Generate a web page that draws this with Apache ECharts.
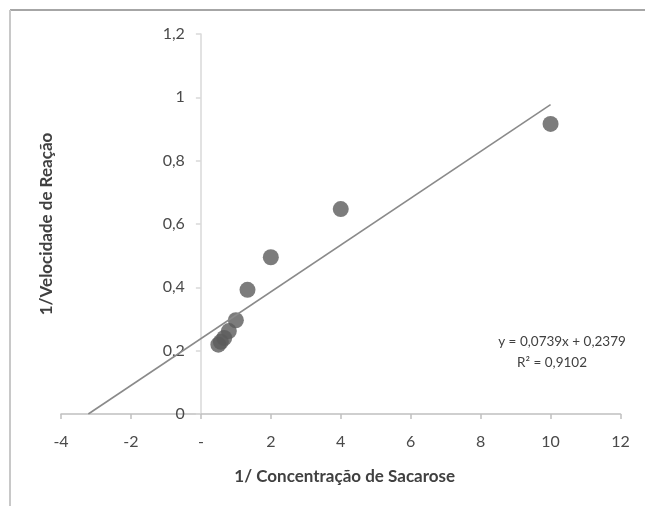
<!DOCTYPE html>
<html>
<head>
<meta charset="utf-8">
<script src="https://cdn.jsdelivr.net/npm/echarts@6/dist/echarts.min.js"></script>
<style>
  html, body { margin: 0; padding: 0; background: #fff; }
  #chart { width: 645px; height: 506px; }
</style>
</head>
<body>
<div id="chart"></div>
<script>
// Lineweaver-Burk plot: 1/[S] vs 1/v
const invConcentration = [10, 4, 2, 1.333, 1, 0.8, 0.667, 0.571, 0.5];
const invVelocity = [0.916, 0.647, 0.495, 0.392, 0.296, 0.262, 0.240, 0.228, 0.219];

// Linear trendline (least squares) and its statistics
const trendSlope = [0.0739];
const trendIntercept = [0.2379];
const trendR2 = [0.9102];
const trendXEnd = [10];

// Axis tick labels
const xTicks = [-4, -2, 0, 2, 4, 6, 8, 10, 12];
const xTickLabels = ['-4', '-2', '-', '2', '4', '6', '8', '10', '12'];
const yTicks = [0, 0.2, 0.4, 0.6, 0.8, 1, 1.2];
const yTickLabels = ['0', '0,2', '0,4', '0,6', '0,8', '1', '1,2'];

const fmtComma = (v, d) => v.toFixed(d).replace('.', ',');

const slope = trendSlope[0], intercept = trendIntercept[0];
const xStart = -intercept / slope;          // where the trendline meets y = 0
const trendData = [[xStart, 0], [trendXEnd[0], slope * trendXEnd[0] + intercept]];

const font = 'Lato, "Open Sans", sans-serif';

const X_MIN = -4, X_MAX = 12;
const GRID = { left: 61, right: 24.5, top: 34, bottom: 92 };
const WIDTH = 645;
// the vertical axis sits at x = 0, so shift it right from the grid's left edge
const yAxisShift = (0 - X_MIN) / (X_MAX - X_MIN) * (WIDTH - GRID.left - GRID.right);

const chart = echarts.init(document.getElementById('chart'), null, { renderer: 'canvas' });
chart.setOption({
  backgroundColor: '#ffffff',
  animation: false,
  grid: Object.assign({ containLabel: false, outerBoundsMode: 'none' }, GRID),
  xAxis: {
    type: 'value',
    min: X_MIN, max: X_MAX, interval: 2,
    name: '1/ Concentração de Sacarose',
    nameLocation: 'middle',
    nameGap: 54,
    nameTextStyle: { fontFamily: font, fontWeight: 'bold', fontSize: 17, color: '#404040', padding: [0, 0, 0, 8] },
    axisLine: { onZero: false, lineStyle: { color: '#c0c0c0', width: 1.5 } },
    axisTick: { show: true, length: 5, lineStyle: { color: '#c0c0c0', width: 1.5 } },
    axisLabel: {
      margin: 20,
      fontFamily: font, fontSize: 16, color: '#4a4a4a',
      formatter: v => { const i = xTicks.indexOf(v); return i >= 0 ? xTickLabels[i] : ''; }
    },
    splitLine: { show: false }
  },
  yAxis: {
    type: 'value',
    min: 0, max: 1.2, interval: 0.2,
    offset: -yAxisShift,
    name: '1/Velocidade de Reação',
    nameLocation: 'middle',
    nameGap: 146,
    nameTextStyle: { fontFamily: font, fontWeight: 'bold', fontSize: 17, color: '#404040' },
    axisLine: { show: true, onZero: false, lineStyle: { color: '#d9d9d9', width: 1.5 } },
    axisTick: { show: true, length: 5, lineStyle: { color: '#d9d9d9', width: 1.5 } },
    axisLabel: {
      margin: 16,
      fontFamily: font, fontSize: 16, color: '#4a4a4a',
      formatter: v => {
        const i = yTicks.findIndex(t => Math.abs(t - v) < 1e-9);
        return i >= 0 ? yTickLabels[i] : '';
      }
    },
    splitLine: { show: false }
  },
  series: [
    {
      type: 'scatter',
      data: invConcentration.map((x, i) => [x, invVelocity[i]]),
      symbol: 'circle',
      symbolSize: 16,
      itemStyle: { color: '#5b5b5b' },
      z: 2
    },
    {
      type: 'line',
      data: trendData,
      showSymbol: false,
      symbol: 'none',
      lineStyle: { color: '#8a8a8a', width: 1.6 },
      z: 3
    }
  ],
  graphic: [
    // chart frame (top and left edges)
    { type: 'line', shape: { x1: 10, y1: 10, x2: 645, y2: 10 }, style: { stroke: '#a6a6a6', lineWidth: 2 } },
    { type: 'line', shape: { x1: 10, y1: 10, x2: 10, y2: 506 }, style: { stroke: '#c8c8c8', lineWidth: 2 } },
    {
      type: 'text', x: 562, y: 342,
      style: {
        text: 'y = ' + fmtComma(slope, 4) + 'x + ' + fmtComma(intercept, 4),
        fontFamily: font, fontSize: 13.5, fill: '#404040',
        align: 'center', verticalAlign: 'middle'
      }
    },
    {
      type: 'text', x: 552, y: 363,
      style: {
        text: 'R² = ' + fmtComma(trendR2[0], 4),
        fontFamily: font, fontSize: 13.5, fill: '#404040',
        align: 'center', verticalAlign: 'middle'
      }
    }
  ]
});
</script>
</body>
</html>
